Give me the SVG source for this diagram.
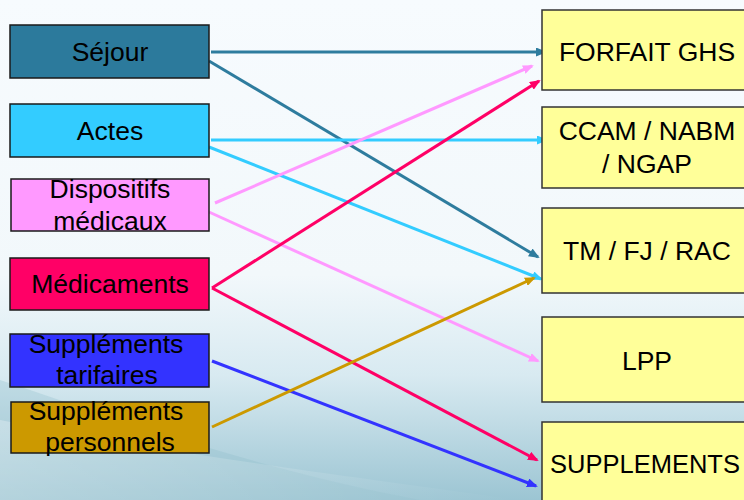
<svg xmlns="http://www.w3.org/2000/svg" width="744" height="500" viewBox="0 0 744 500">
<defs>
<linearGradient id="bg" x1="0" y1="0" x2="0" y2="1">
<stop offset="0" stop-color="#F7FBFE"/>
<stop offset="0.55" stop-color="#F2F8FB"/>
<stop offset="0.75" stop-color="#D8EAF1"/>
<stop offset="1" stop-color="#9CC5D3"/>
</linearGradient>
<linearGradient id="swoosh" x1="0" y1="0" x2="1" y2="0">
<stop offset="0" stop-color="#FFFFFF" stop-opacity="0.55"/>
<stop offset="1" stop-color="#FFFFFF" stop-opacity="0"/>
</linearGradient>
<marker id="a-sej" markerUnits="userSpaceOnUse" markerWidth="11" markerHeight="9" refX="9" refY="4.5" orient="auto"><path d="M0,0 L11,4.5 L0,9 z" fill="#2E7C9E"/></marker>
<marker id="a-act" markerUnits="userSpaceOnUse" markerWidth="11" markerHeight="9" refX="9" refY="4.5" orient="auto"><path d="M0,0 L11,4.5 L0,9 z" fill="#33CCFF"/></marker>
<marker id="a-dis" markerUnits="userSpaceOnUse" markerWidth="11" markerHeight="9" refX="9" refY="4.5" orient="auto"><path d="M0,0 L11,4.5 L0,9 z" fill="#FF99FF"/></marker>
<marker id="a-med" markerUnits="userSpaceOnUse" markerWidth="11" markerHeight="9" refX="9" refY="4.5" orient="auto"><path d="M0,0 L11,4.5 L0,9 z" fill="#FF0066"/></marker>
<marker id="a-tar" markerUnits="userSpaceOnUse" markerWidth="11" markerHeight="9" refX="9" refY="4.5" orient="auto"><path d="M0,0 L11,4.5 L0,9 z" fill="#3333FF"/></marker>
<marker id="a-per" markerUnits="userSpaceOnUse" markerWidth="11" markerHeight="9" refX="9" refY="4.5" orient="auto"><path d="M0,0 L11,4.5 L0,9 z" fill="#CC9900"/></marker>
</defs>
<style>
text{font-family:"Liberation Sans",Arial,sans-serif;font-size:26.5px;fill:#000;text-anchor:middle}
.lbox{stroke:#1A1A1A;stroke-width:1.5}
.rbox{fill:#FFFF99;stroke:#333;stroke-width:1.5}
.c{fill:none;stroke-width:3}
</style>
<rect x="0" y="0" width="744" height="500" fill="url(#bg)"/>
<path d="M0,380 C120,420 260,470 420,500 L0,500 Z" fill="#8FBCCB" opacity="0.3"/>
<path d="M0,420 C150,450 300,470 520,500 L0,500 Z" fill="url(#swoosh)" opacity="0.5"/>

<g id="connectors">
<line class="c" x1="211" y1="52" x2="545" y2="52" stroke="#2E7C9E" marker-end="url(#a-sej)"/>
<line class="c" x1="209" y1="61" x2="538" y2="257" stroke="#2E7C9E" marker-end="url(#a-sej)"/>
<line class="c" x1="211" y1="140" x2="546" y2="140" stroke="#33CCFF" marker-end="url(#a-act)"/>
<line class="c" x1="209" y1="147" x2="541" y2="279" stroke="#33CCFF" marker-end="url(#a-act)"/>
<line class="c" x1="215" y1="203" x2="532" y2="66" stroke="#FF99FF" marker-end="url(#a-dis)"/>
<line class="c" x1="209" y1="212" x2="538" y2="361" stroke="#FF99FF" marker-end="url(#a-dis)"/>
<line class="c" x1="212" y1="288" x2="539" y2="81" stroke="#FF0066" marker-end="url(#a-med)"/>
<line class="c" x1="212" y1="288" x2="537" y2="460" stroke="#FF0066" marker-end="url(#a-med)"/>
<line class="c" x1="212" y1="361" x2="536" y2="486" stroke="#3333FF" marker-end="url(#a-tar)"/>
<line class="c" x1="212" y1="427" x2="534" y2="278" stroke="#CC9900" marker-end="url(#a-per)"/>
</g>

<g id="sejour"><rect class="lbox" x="10" y="25" width="199" height="53" fill="#2C7A9C"/><text x="110" y="61">Séjour</text></g>
<g id="actes"><rect class="lbox" x="10" y="104" width="199" height="53" fill="#33CCFF"/><text x="110" y="140">Actes</text></g>
<g id="dispositifs"><rect class="lbox" x="11" y="179" width="198" height="52" fill="#FF99FF"/><text x="110" y="198">Dispositifs</text><text x="110" y="230">médicaux</text></g>
<g id="medicaments"><rect class="lbox" x="10" y="258" width="199" height="52" fill="#FF0066"/><text x="110" y="293">Médicaments</text></g>
<g id="supp-tarifaires"><rect class="lbox" x="10" y="334" width="199" height="53" fill="#3333FF"/><text x="106" y="353">Suppléments</text><text x="107" y="384">tarifaires</text></g>
<g id="supp-personnels"><rect class="lbox" x="11" y="402" width="198" height="51" fill="#CC9900"/><text x="106" y="420">Suppléments</text><text x="110" y="451">personnels</text></g>

<g id="forfait"><rect class="rbox" x="542" y="10" width="212" height="80"/><text x="647" y="61">FORFAIT GHS</text></g>
<g id="ccam"><rect class="rbox" x="542" y="107" width="212" height="81"/><text x="647" y="140">CCAM / NABM</text><text x="647" y="173">/ NGAP</text></g>
<g id="tm"><rect class="rbox" x="542" y="208" width="212" height="85"/><text x="647" y="260">TM / FJ / RAC</text></g>
<g id="lpp"><rect class="rbox" x="542" y="317" width="212" height="85"/><text x="647" y="370">LPP</text></g>
<g id="supplements"><rect class="rbox" x="542" y="422" width="212" height="90"/><text x="645" y="473" style="font-size:25.5px">SUPPLEMENTS</text></g>
</svg>
